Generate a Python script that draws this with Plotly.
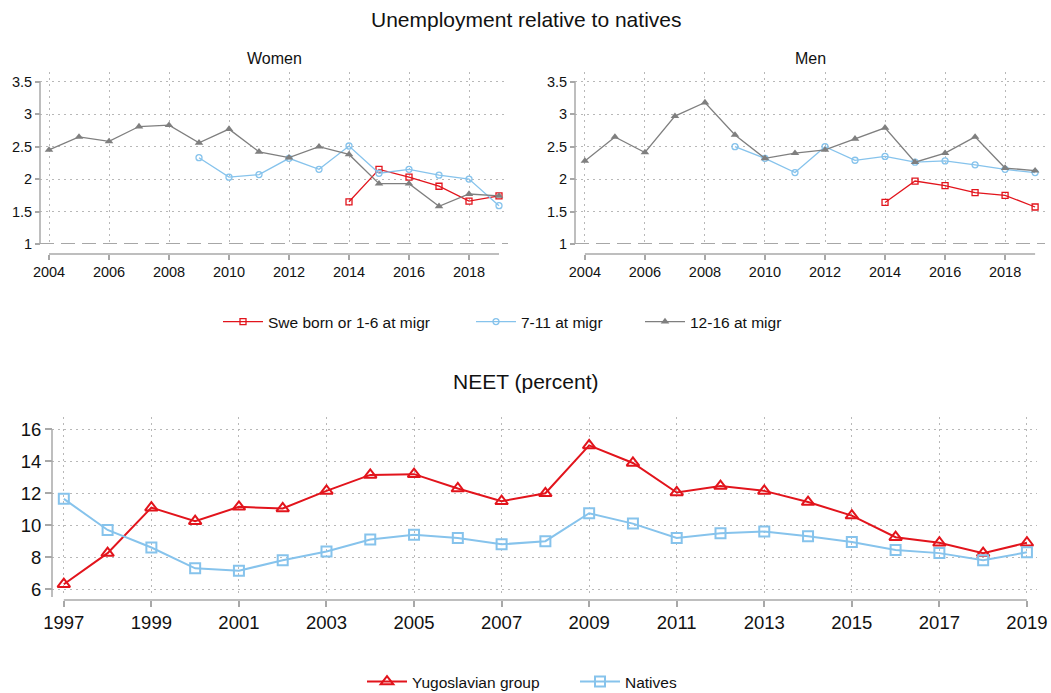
import plotly.graph_objects as go

W, H = 1051, 693

# ---------------- data ----------------
years_top = list(range(2004, 2020))
women_1216 = [2.45, 2.65, 2.58, 2.81, 2.83, 2.56, 2.77, 2.42, 2.33, 2.50, 2.38, 1.93, 1.93, 1.58, 1.77, 1.74]
men_1216 = [2.28, 2.65, 2.41, 2.97, 3.18, 2.68, 2.32, 2.40, 2.45, 2.62, 2.79, 2.26, 2.40, 2.65, 2.17, 2.13]

years_711 = list(range(2009, 2020))
women_711 = [2.33, 2.03, 2.07, 2.32, 2.15, 2.51, 2.09, 2.15, 2.06, 2.00, 1.59]
men_711 = [2.50, 2.32, 2.10, 2.50, 2.29, 2.35, 2.26, 2.28, 2.22, 2.15, 2.10]

years_swe = list(range(2014, 2020))
women_swe = [1.65, 2.15, 2.03, 1.89, 1.66, 1.74]
men_swe = [1.64, 1.97, 1.90, 1.79, 1.75, 1.57]

years_neet = list(range(1997, 2020))
neet_yugo = [6.3, 8.25, 11.1, 10.25, 11.15, 11.05, 12.15, 13.15, 13.2, 12.3, 11.5, 12.0,
             15.0, 13.9, 12.05, 12.45, 12.15, 11.45, 10.6, 9.25, 8.9, 8.25, 8.9]
neet_natives = [11.65, 9.7, 8.6, 7.3, 7.15, 7.8, 8.35, 9.1, 9.4, 9.2, 8.8, 9.0,
                10.75, 10.1, 9.2, 9.5, 9.6, 9.3, 8.95, 8.45, 8.25, 7.8, 8.3]

top_yticks = [1, 1.5, 2, 2.5, 3, 3.5]
top_yticktext = ["1", "1.5", "2", "2.5", "3", "3.5"]
top_xticks = list(range(2004, 2019, 2))
neet_yticks = [6, 8, 10, 12, 14, 16]
neet_xticks = list(range(1997, 2020, 2))

labels_top = ["Swe born or 1-6 at migr", "7-11 at migr", "12-16 at migr"]
labels_neet = ["Yugoslavian group", "Natives"]

# ---------------- styles ----------------
RED = "#e2141c"
BLUE = "#86c3ec"
GREY = "#7f7f7f"
AXC = "#a8a8a8"
GRIDC = "#b8b8b8"
GRIDDASH = "1.5px,4.5px"
FONT = "Liberation Sans, Arial, Helvetica, sans-serif"


def px(xp):
    return xp / W


def py(yp):
    return 1 - yp / H


fig = go.Figure()

# top panels
panels = [("x", "y", women_swe, women_711, women_1216, True),
          ("x2", "y2", men_swe, men_711, men_1216, False)]
for xa, ya, swe, s711, s1216, show in panels:
    fig.add_trace(go.Scatter(x=years_swe, y=swe, mode="lines+markers", name=labels_top[0],
                             xaxis=xa, yaxis=ya, showlegend=show, legend="legend",
                             line=dict(color=RED, width=1.3),
                             marker=dict(symbol="square-open", size=6, color=RED, line=dict(width=1.3))))
    fig.add_trace(go.Scatter(x=years_711, y=s711, mode="lines+markers", name=labels_top[1],
                             xaxis=xa, yaxis=ya, showlegend=show, legend="legend2",
                             line=dict(color=BLUE, width=1.3),
                             marker=dict(symbol="circle-open", size=6, color=BLUE, line=dict(width=1.3))))
    fig.add_trace(go.Scatter(x=years_top, y=s1216, mode="lines+markers", name=labels_top[2],
                             xaxis=xa, yaxis=ya, showlegend=show, legend="legend3",
                             line=dict(color=GREY, width=1.3),
                             marker=dict(symbol="triangle-up", size=7.5, color=GREY)))

# NEET panel
fig.add_trace(go.Scatter(x=years_neet, y=neet_yugo, mode="lines+markers", name=labels_neet[0],
                         xaxis="x3", yaxis="y3", legend="legend4",
                         line=dict(color=RED, width=2),
                         marker=dict(symbol="triangle-up-open", size=11, color=RED, line=dict(width=2))))
fig.add_trace(go.Scatter(x=years_neet, y=neet_natives, mode="lines+markers", name=labels_neet[1],
                         xaxis="x3", yaxis="y3", legend="legend5",
                         line=dict(color=BLUE, width=2),
                         marker=dict(symbol="square-open", size=10, color=BLUE, line=dict(width=2))))

tickfont_top = dict(family=FONT, size=14.5, color="#111")
tickfont_bot = dict(family=FONT, size=18.5, color="#111")

common = dict(showline=False, zeroline=False, showgrid=True, griddash=GRIDDASH, gridcolor=GRIDC,
              gridwidth=1, ticks="outside", tickcolor=AXC, tickwidth=1.5, automargin=False)

top_dom_y = [py(244), py(72)]
women_dom = [px(40), px(508)]
men_dom = [px(575), px(1045)]
bot_dom_x = [px(52), px(1037)]
bot_dom_y = [py(597), py(417)]

fig.update_layout(
    xaxis=dict(domain=women_dom, range=[2003.7, 2019.3], tickvals=top_xticks, anchor="free",
               position=py(254), ticklen=5, tickfont=tickfont_top, **common),
    yaxis=dict(domain=top_dom_y, range=[1.0, 3.65], tickvals=top_yticks, ticktext=top_yticktext,
               anchor="free", position=px(40), ticklen=5, tickfont=tickfont_top, **common),
    xaxis2=dict(domain=men_dom, range=[2003.67, 2019.33], tickvals=top_xticks, anchor="free",
                position=py(254), ticklen=5, tickfont=tickfont_top, **common),
    yaxis2=dict(domain=top_dom_y, range=[1.0, 3.65], tickvals=top_yticks, ticktext=top_yticktext,
                anchor="free", position=px(575), ticklen=5, tickfont=tickfont_top, **common),
    xaxis3=dict(domain=bot_dom_x, range=[1996.73, 2019.23], tickvals=neet_xticks, anchor="free",
                position=py(600), ticklen=6, tickfont=tickfont_bot, **common),
    yaxis3=dict(domain=bot_dom_y, range=[5.5, 16.78], tickvals=neet_yticks,
                anchor="free", position=px(52), ticklen=7, tickfont=tickfont_bot, **common),
)

shapes = []
# reference dashed line at 1
for xa, ya in [("x", "y"), ("x2", "y2")]:
    shapes.append(dict(type="line", xref=f"{xa} domain", yref=ya, x0=0, x1=1, y0=1, y1=1,
                       line=dict(color="#8a8a8a", width=1.5, dash="14px,7px"), layer="above"))
# axis lines
for ya, xpos, y_top, y_bot in [("y", px(40), 3.5, 1.0), ("y2", px(575), 3.5, 1.0),
                               ("y3", px(52), 16, 5.5)]:
    shapes.append(dict(type="line", xref="paper", yref=ya, x0=xpos, x1=xpos, y0=y_bot, y1=y_top,
                       line=dict(color=AXC, width=1.5)))
for xa, ypos, x0, x1 in [("x", py(254), 2004, 2019), ("x2", py(254), 2004, 2019),
                         ("x3", py(600), 1997, 2019)]:
    shapes.append(dict(type="line", xref=xa, yref="paper", x0=x0, x1=x1, y0=ypos, y1=ypos,
                       line=dict(color=AXC, width=1.5)))
fig.update_layout(shapes=shapes)

annotations = [
    dict(text="Unemployment relative to natives", x=0.5, y=py(19), font=dict(size=21)),
    dict(text="Women", x=(women_dom[0] + women_dom[1]) / 2, y=py(58), font=dict(size=16)),
    dict(text="Men", x=(men_dom[0] + men_dom[1]) / 2, y=py(58), font=dict(size=16)),
    dict(text="NEET (percent)", x=0.5, y=py(382), font=dict(size=21)),
]
for a in annotations:
    a.update(xref="paper", yref="paper", showarrow=False, xanchor="center", yanchor="middle")
    a["font"].update(family=FONT, color="#111")
fig.update_layout(annotations=annotations)

legfont = dict(family=FONT, size=15.5, color="#111")
leg_common = dict(orientation="h", xanchor="left", yanchor="middle", bgcolor="rgba(0,0,0,0)",
                  font=legfont, borderwidth=0, itemwidth=40)
fig.update_layout(
    legend=dict(x=px(218), y=py(322), **leg_common),
    legend2=dict(x=px(471), y=py(322), **leg_common),
    legend3=dict(x=px(640), y=py(322), **leg_common),
    legend4=dict(x=px(362), y=py(682), **leg_common),
    legend5=dict(x=px(575), y=py(682), **leg_common),
)

fig.update_layout(width=W, height=H, margin=dict(l=0, r=0, t=0, b=0, pad=0, autoexpand=False),
                  paper_bgcolor="white", plot_bgcolor="white",
                  font=dict(family=FONT, color="#111"))

fig.write_html("out.html", config={"displayModeBar": False},
               post_script="document.body.style.margin='0';")
